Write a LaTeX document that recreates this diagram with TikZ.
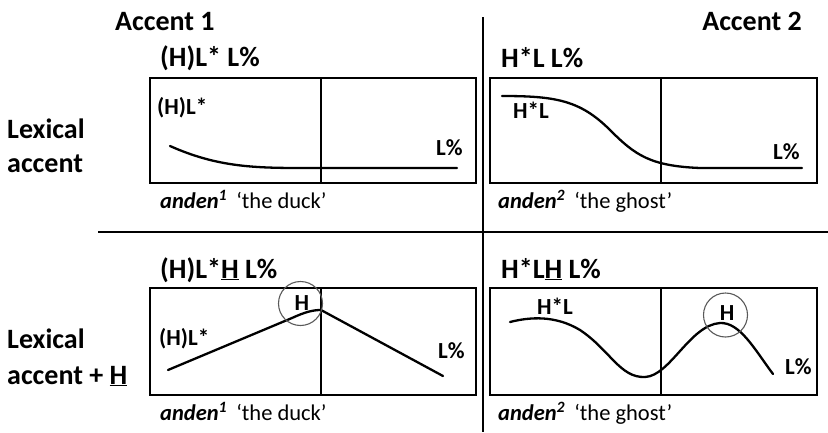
\documentclass[tikz,border=0pt]{standalone}
\usepackage{fontspec}
\setmainfont{Carlito}
\begin{document}
\begin{tikzpicture}[x=1pt,y=-1pt,
  big/.style={inner sep=0pt,anchor=base west,font=\fontsize{28}{34}\selectfont\bfseries},
  small/.style={inner sep=0pt,anchor=base west,font=\fontsize{23}{27}\selectfont\bfseries},
  captext/.style={inner sep=0pt,anchor=base west,font=\fontsize{22.5}{27}\selectfont},
  frame/.style={line width=1.8pt},
  sep/.style={line width=1.8pt},
  contour/.style={line width=2.3pt,line cap=round},
  ring/.style={line width=1.1pt,draw=black!65}]
\useasboundingbox (0,0) rectangle (828,432);
% separators
\draw[sep] (483,17) -- (483,432);
\draw[sep] (98,232) -- (828,232);
% headings
\node[big] (a1) at (115,30) {Accent 1};
\node[big,anchor=base east] (a2) at (802,30) {Accent 2};
\node[big] (r1a) at (7,138) {Lexical};
\node[big] (r1b) at (7,172) {accent};
\node[big] (r2a) at (7,348) {Lexical};
\node[big] (r2b) at (7,384) {accent + \underline{H}};
\node[big] (t1) at (160,66) {(H)L* L\%};
\node[big] (t2) at (501,67) {H*L L\%};
\node[big] (t3) at (160,278) {(H)L*\underline{H} L\%};
\node[big] (t4) at (501,278) {H*L\underline{H} L\%};
% boxes
\draw[frame] (150,78) rectangle (476,183) (321,78) -- (321,183);
\draw[frame] (490,78) rectangle (817,183) (661,78) -- (661,183);
\draw[frame] (150,288) rectangle (476,395) (321,288) -- (321,395);
\draw[frame] (490,288) rectangle (817,395) (661,288) -- (661,395);
% contours
\draw[contour] (170,146) .. controls (215,166) and (250,168) .. (300,168) -- (457,168);
\draw[contour] (502,96) .. controls (555,96) and (580,100) .. (610,130) .. controls (635,155) and (650,166) .. (700,168) -- (802,168);
\draw[contour] (168,370) -- (292,318) .. controls (305,312) and (313,310) .. (321,310) -- (443,376);
\draw[contour] (510,322) .. controls (530,317) and (555,315) .. (580,330) .. controls (610,350) and (620,378) .. (645,377) .. controls (670,376) and (690,325) .. (720,323) .. controls (740,322) and (755,350) .. (773,374);
% rings
\draw[ring] (300.5,303.5) circle (22);
\draw[ring] (725.5,315) circle (22);
% labels in boxes
\node[small] (l1) at (157,114) {(H)L*};
\node[small] (l2) at (436,155) {L\%};
\node[small] (l3) at (513,118) {H*L};
\node[small] (l4) at (773,159) {L\%};
\node[small] (l5) at (159,345) {(H)L*};
\node[small,anchor=base] (l6) at (302,310) {H};
\node[small] (l7) at (438,358) {L\%};
\node[small] (l8) at (537,314) {H*L};
\node[small,anchor=base] (l9) at (727,320) {H};
\node[small] (l10) at (785,374) {L\%};
% captions
\node[captext] (c1) at (160,208) {\textbf{\textit{anden\textsuperscript{1}}}\hspace{4pt} `the duck'};
\node[captext] (c2) at (498,208) {\textbf{\textit{anden\textsuperscript{2}}}\hspace{4pt} `the ghost'};
\node[captext] (c3) at (160,420) {\textbf{\textit{anden\textsuperscript{1}}}\hspace{4pt} `the duck'};
\node[captext] (c4) at (498,420) {\textbf{\textit{anden\textsuperscript{2}}}\hspace{4pt} `the ghost'};
\end{tikzpicture}
\end{document}
